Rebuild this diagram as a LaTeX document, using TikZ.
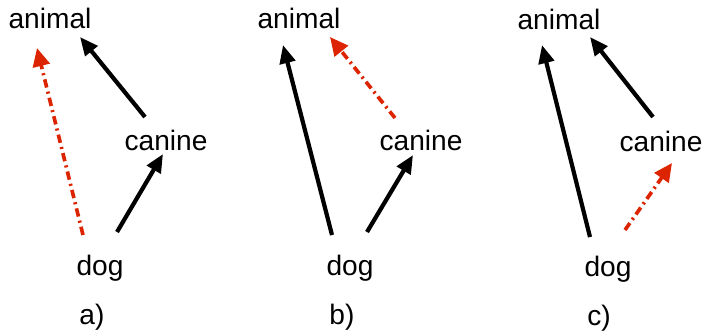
\documentclass[tikz,border=0pt]{standalone}
\usepackage{fontspec}
\setmainfont{Liberation Sans}
\usetikzlibrary{arrows.meta,calc}
\definecolor{infred}{RGB}{221,36,0}

\tikzset{
  word/.style={inner sep=0pt,anchor=base,font=\fontsize{20}{24}\selectfont},
  isa/.style={-{Triangle[length=13pt,width=11pt]},line width=3pt,black},
  inferred/.style={-{Triangle[length=13pt,width=12pt]},line width=2.6pt,infred,
    dash pattern=on 6pt off 3pt on 1.5pt off 3pt}
}

\begin{document}
\begin{tikzpicture}[x=0.025cm,y=-0.025cm]
\useasboundingbox (0,0) rectangle (705,335);
% a)
\node[word] (animA) at (50,28) {animal};
\node[word] (canA) at (166,150) {canine};
\node[word] (dogA) at (100,275) {dog};
\node[word] (labA) at (92,324) {a)};
\draw[inferred] ($(dogA.base)+(-17,-40)$) -- ($(animA.base)+(-13,20)$);
\draw[isa] ($(dogA.base)+(17,-43)$) -- ($(canA.base)+(-3,4)$);
\draw[isa] ($(canA.base)+(-21,-33)$) -- ($(animA.base)+(30,9)$);
% b)
\node[word] (animB) at (299,28) {animal};
\node[word] (canB) at (421,150) {canine};
\node[word] (dogB) at (350,275) {dog};
\node[word] (labB) at (342,324) {b)};
\draw[isa] ($(dogB.base)+(-18,-40)$) -- ($(animB.base)+(-16,17)$);
\draw[isa] ($(dogB.base)+(17,-43)$) -- ($(canB.base)+(-8,5)$);
\draw[inferred] ($(canB.base)+(-26,-32)$) -- ($(animB.base)+(31,9)$);
% c)
\node[word] (animC) at (559,29) {animal};
\node[word] (canC) at (661,151) {canine};
\node[word] (dogC) at (608,276) {dog};
\node[word] (labC) at (599,325) {c)};
\draw[isa] ($(dogC.base)+(-18,-39)$) -- ($(animC.base)+(-17,16)$);
\draw[isa] ($(canC.base)+(-8,-34)$) -- ($(animC.base)+(31,8)$);
\draw[inferred] ($(dogC.base)+(17,-46)$) -- ($(canC.base)+(11,12)$);
\end{tikzpicture}
\end{document}
